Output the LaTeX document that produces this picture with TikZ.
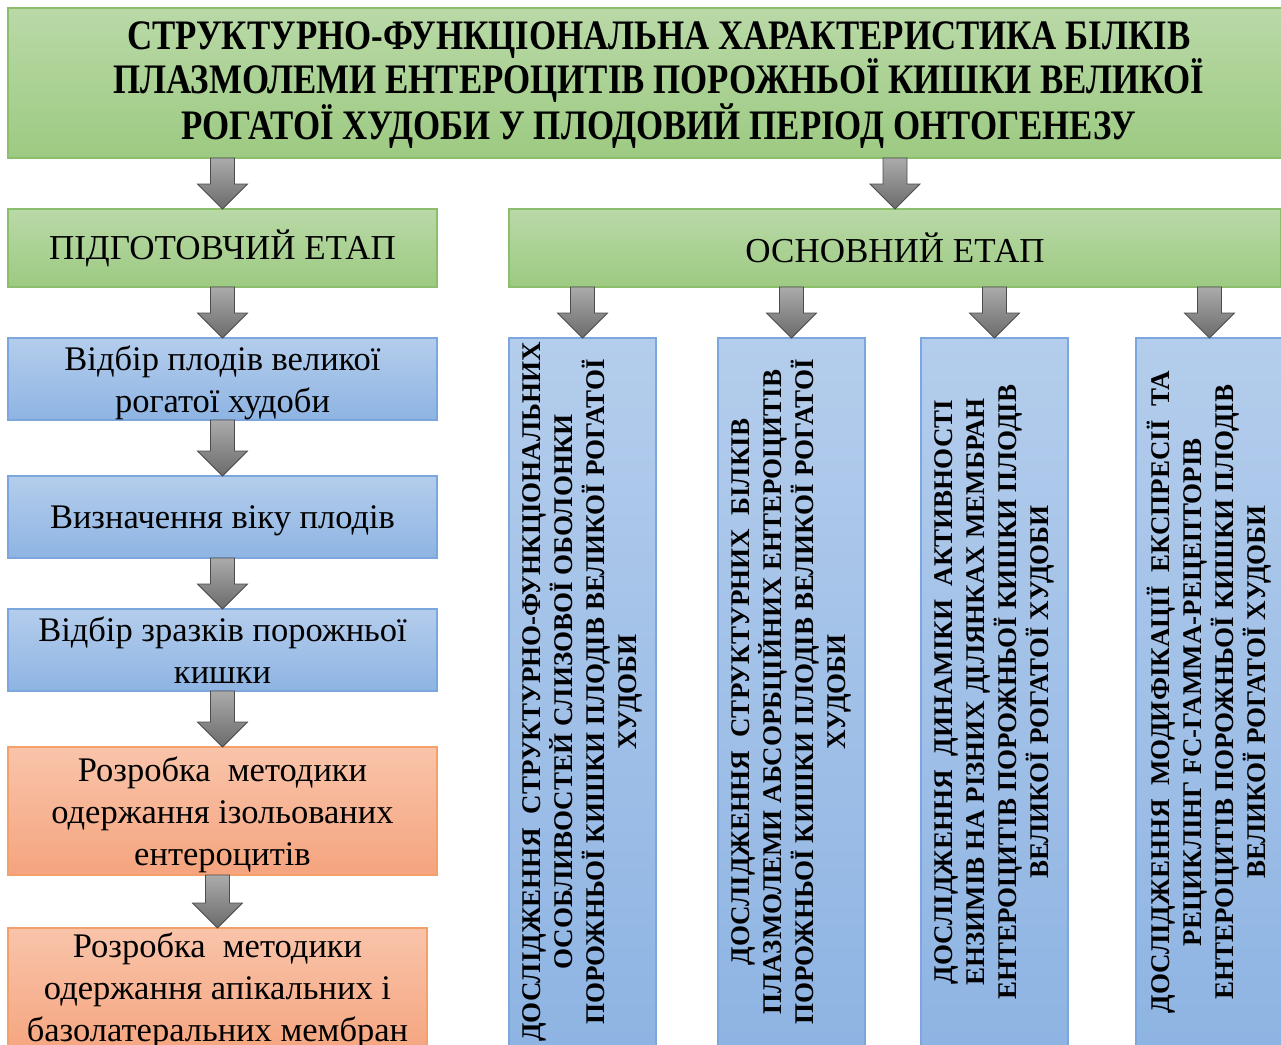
\documentclass[tikz,border=0pt]{standalone}
\usepackage{fontspec}
\setmainfont{Liberation Serif}
\newfontfamily\narrowfont[FakeStretch=0.83]{Liberation Serif}
\usetikzlibrary{positioning, calc}
\definecolor{greenTop}{HTML}{B9D9A7}
\definecolor{greenBot}{HTML}{9DCA82}
\definecolor{greenLine}{HTML}{8DBE6D}
\definecolor{blueTop}{HTML}{B4CDEC}
\definecolor{blueBot}{HTML}{8EB4E3}
\definecolor{blueLine}{HTML}{7BA7DE}
\definecolor{orangeTop}{HTML}{F9C4AA}
\definecolor{orangeBot}{HTML}{F5A47E}
\definecolor{orangeLine}{HTML}{F3A06A}
\tikzset{
  fillbox/.style={rectangle, draw=#1Line, top color=#1Top, bottom color=#1Bot,
                  line width=1.3pt, inner sep=0pt, outer sep=0pt, align=center},
  fillbox/.default=blue,
  titlebox/.style={fillbox=green, minimum width=1302pt, minimum height=150pt},
  titletext/.style={align=center, inner sep=0pt,
                    font=\narrowfont\bfseries\fontsize{42}{44}\selectfont},
  stagebox/.style={fillbox=green, minimum height=78pt,
                   font=\fontsize{35}{40}\selectfont},
  stepbox/.style={fillbox=#1, minimum width=429pt, minimum height=82pt,
                  text depth=0pt, font=\fontsize{34.5}{42}\selectfont},
  stepbox/.default=blue,
  colbox/.style={fillbox=blue, minimum width=147pt, minimum height=708pt},
  vtext/.style={rotate=90, align=center, inner sep=0pt,
                font=\bfseries\fontsize{27}{32}\selectfont},
  grarrow/.style={draw=black!70, line width=0.8pt,
                  top color=black!33, bottom color=black!58},
}
% block arrow from the bottom of #1 down to the top of #2
\newcommand\downarr[2]{%
  \path[grarrow] let \p1=(#2.north), \p2=(#1.south -| #2.north) in
    (\x1-12pt,\y2) -- (\x1+12pt,\y2) -- (\x1+12pt,\y1+25pt)
    -- (\x1+25pt,\y1+25pt) -- (\x1,\y1) -- (\x1-25pt,\y1+25pt)
    -- (\x1-12pt,\y1+25pt) -- cycle;}

\begin{document}
\begin{tikzpicture}[x=1pt, y=1pt]
  \useasboundingbox (0,0) rectangle (1281,-1044);
  %% Title
  \node[titlebox, anchor=north west] (title) at (8,-8) {};
  \node[titletext, below=2pt of title.center, anchor=center] (titlet)
    {СТРУКТУРНО-ФУНКЦІОНАЛЬНА ХАРАКТЕРИСТИКА БІЛКІВ\\
     ПЛАЗМОЛЕМИ ЕНТЕРОЦИТІВ ПОРОЖНЬОЇ КИШКИ ВЕЛИКОЇ\\
     РОГАТОЇ ХУДОБИ У ПЛОДОВИЙ ПЕРІОД ОНТОГЕНЕЗУ};
  %% Stages
  \node[stagebox, minimum width=429pt, below=51pt of title.south west,
        anchor=north west] (prep) {ПІДГОТОВЧИЙ ЕТАП};
  \node[stagebox, minimum width=772pt, right=72pt of prep] (main)
    {ОСНОВНИЙ ЕТАП};
  \downarr{title}{prep}
  \downarr{title}{main}
  %% Preparatory steps
  \node[stepbox, below=51pt of prep] (s1)
    {Відбір плодів великої\\рогатої худоби};
  \node[stepbox, below=56pt of s1] (s2) {Визначення віку плодів};
  \node[stepbox, below=51pt of s2] (s3)
    {Відбір зразків порожньої\\кишки};
  \node[stepbox=orange, minimum height=128pt, below=56pt of s3] (s4)
    {Розробка \ методики\\одержання ізольованих\\ентероцитів};
  \node[stepbox=orange, minimum width=419pt, minimum height=128pt,
        text depth=9pt, below=53pt of s4.south west, anchor=north west] (s5)
    {Розробка \ методики\\одержання апікальних і\\базолатеральних мембран};
  \foreach \a/\b in {prep/s1,s1/s2,s2/s3,s3/s4,s4/s5}
    {\downarr{\a}{\b}}
  %% Main studies
  \node[colbox, below=51pt of main.south west, anchor=north west] (r1) {};
  \node[colbox, right=62pt of r1] (r2) {};
  \node[colbox, right=56pt of r2] (r3) {};
  \node[colbox, right=68pt of r3] (r4) {};
  \node[vtext] (r1t) at (r1.center)
    {ДОСЛІДЖЕННЯ \ СТРУКТУРНО-ФУНКЦІОНАЛЬНИХ\\
     ОСОБЛИВОСТЕЙ СЛИЗОВОЇ ОБОЛОНКИ\\
     ПОРОЖНЬОЇ КИШКИ ПЛОДІВ ВЕЛИКОЇ РОГАТОЇ\\ХУДОБИ};
  \node[vtext] (r2t) at (r2.center)
    {ДОСЛІДЖЕННЯ \ СТРУКТУРНИХ \ БІЛКІВ\\
     ПЛАЗМОЛЕМИ АБСОРБЦІЙНИХ ЕНТЕРОЦИТІВ\\
     ПОРОЖНЬОЇ КИШКИ ПЛОДІВ ВЕЛИКОЇ РОГАТОЇ\\ХУДОБИ};
  \node[vtext] (r3t) at (r3.center)
    {ДОСЛІДЖЕННЯ \ ДИНАМІКИ \ АКТИВНОСТІ\\
     ЕНЗИМІВ НА РІЗНИХ ДІЛЯНКАХ МЕМБРАН\\
     ЕНТЕРОЦИТІВ ПОРОЖНЬОЇ КИШКИ ПЛОДІВ\\ВЕЛИКОЇ РОГАТОЇ ХУДОБИ};
  \node[vtext] (r4t) at (r4.center)
    {ДОСЛІДЖЕННЯ \ МОДИФІКАЦІЇ \ ЕКСПРЕСІЇ \ ТА\\
     РЕЦИКЛІНГ FC-ГАММА-РЕЦЕПТОРІВ\\
     ЕНТЕРОЦИТІВ ПОРОЖНЬОЇ КИШКИ ПЛОДІВ\\ВЕЛИКОЇ РОГАТОЇ ХУДОБИ};
  \foreach \b in {r1,r2,r3,r4}
    {\downarr{main}{\b}}
\end{tikzpicture}
\end{document}
